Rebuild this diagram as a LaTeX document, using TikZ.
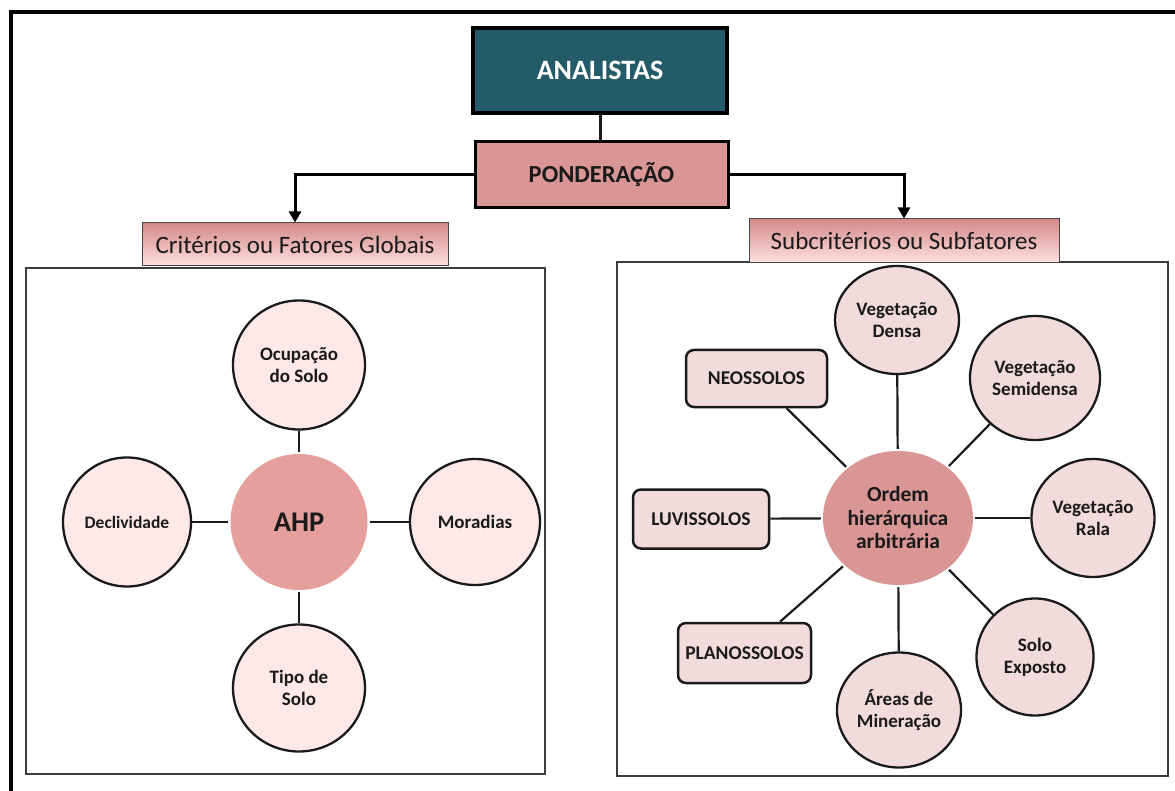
\documentclass[tikz,border=0pt]{standalone}
\usepackage{fontspec}
\setmainfont{Carlito}
\usetikzlibrary{shapes.geometric,arrows.meta}
\definecolor{teal1}{HTML}{235B69}
\definecolor{pond}{HTML}{D99694}
\definecolor{ahpc}{HTML}{E5A09E}
\definecolor{ordc}{HTML}{DA9694}
\definecolor{lpink}{HTML}{FEE8E8}
\definecolor{rpink}{HTML}{F2DCDB}
\definecolor{hdtop}{HTML}{D48A8A}
\definecolor{hdmid}{HTML}{F7B8B8}
\definecolor{hdbot}{HTML}{FFE0E0}
\definecolor{ink}{HTML}{1A1A1A}
\tikzset{
  panel/.style={draw=ink!85, line width=1.4pt, fill=white, inner sep=0pt},
  hdr/.style={draw=ink!80, line width=1pt, top color=hdtop, middle color=hdmid, bottom color=hdbot, inner sep=0pt,
    font=\fontsize{25}{29}\selectfont, text=ink},
  lcirc/.style={ellipse, draw=ink, line width=2.3pt, fill=lpink, inner sep=0pt, align=center,
    font=\bfseries\fontsize{19}{22}\selectfont, text=ink},
  rcirc/.style={ellipse, draw=ink, line width=2.3pt, fill=rpink, inner sep=0pt, align=center,
    font=\bfseries\fontsize{19}{22}\selectfont, text=ink},
  rbox/.style={rectangle, rounded corners=8pt, draw=ink, line width=2.5pt, fill=rpink, inner sep=0pt,
    font=\bfseries\fontsize{19.5}{23}\selectfont, text=ink},
  hub/.style={ellipse, inner sep=0pt, align=center, text=ink},
  conn/.style={draw=ink, line width=2.2pt},
  arr/.style={draw=black, line width=3pt, -{Triangle[length=11pt,width=12pt]}}
}
\begin{document}
\begin{tikzpicture}[x=1pt,y=-1pt]
\useasboundingbox (0,0) rectangle (1175,791);
\begin{scope}
\clip (0,0) rectangle (1175,791);
\draw[line width=4pt, black] (11,12) rectangle (1200,820);
\end{scope}

% top boxes
\node[draw=black, line width=4pt, fill=teal1, minimum width=254pt, minimum height=85pt, inner sep=0pt,
  text=white, font=\bfseries\fontsize{28}{32}\selectfont] (anal) at (600,70.5) {ANALISTAS};
\node[draw=black, line width=3pt, fill=pond, minimum width=253pt, minimum height=66pt, inner sep=0pt,
  text=ink, font=\bfseries\fontsize{24.5}{28}\selectfont] (pond) at (601.5,175) {PONDERAÇÃO};
\draw[conn, line width=3pt] (anal.south) -- (anal.south |- pond.north);

% panels
\node[panel, minimum width=519pt, minimum height=506pt] (lpanel) at (285.5,521) {};
\node[panel, minimum width=551pt, minimum height=514pt] (rpanel) at (892.5,519) {};

% headers
\node[hdr, minimum width=306pt, minimum height=43pt] (crit) at (295,244.5) {Critérios ou Fatores Globais};
\node[hdr, minimum width=310pt, minimum height=44pt] (sub) at (904,241) {Subcritérios ou Subfatores};

\draw[arr] (pond.west) -| (crit.north);
\draw[arr] (pond.east) -| (sub.north);

% left panel
\node[hub, fill=ahpc, minimum width=137pt, minimum height=136pt,
  font=\bfseries\fontsize{28.5}{32}\selectfont] (ahp) at (299,522) {AHP};
\node[lcirc, minimum width=132pt, minimum height=129pt] (ocup) at (299,365) {Ocupação\\do Solo};
\node[lcirc, minimum width=128pt, minimum height=129pt, font=\bfseries\fontsize{17.5}{21}\selectfont] (decl) at (127,522) {Declividade};
\node[lcirc, minimum width=130pt, minimum height=126pt] (mor) at (475,522) {Moradias};
\node[lcirc, minimum width=132pt, minimum height=127pt] (tipo) at (299,688) {Tipo de\\Solo};
\draw[conn, shorten >=2pt] (ocup) -- (ahp);
\draw[conn, shorten >=2pt] (decl) -- (ahp);
\draw[conn, shorten >=2pt] (mor) -- (ahp);
\draw[conn, shorten >=2pt] (tipo) -- (ahp);

% right panel
\node[hub, fill=ordc, minimum width=150pt, minimum height=134pt,
  font=\bfseries\fontsize{21.5}{23.5}\selectfont] (ordem) at (898,518) {Ordem\\hierárquica\\arbitrária};
\node[rcirc, minimum width=124pt, minimum height=108pt] (densa) at (897,320) {Vegetação\\Densa};
\node[rcirc, minimum width=130pt, minimum height=124pt] (semi) at (1035,378) {Vegetação\\Semidensa};
\node[rcirc, minimum width=123pt, minimum height=118pt] (rala) at (1093,518) {Vegetação\\Rala};
\node[rcirc, minimum width=117pt, minimum height=117pt] (expo) at (1035,657) {Solo\\Exposto};
\node[rcirc, minimum width=124pt, minimum height=115pt] (mine) at (899,710) {Áreas de\\Mineração};
\node[rbox, minimum width=141pt, minimum height=57pt] (neo) at (756.5,378.5) {NEOSSOLOS};
\node[rbox, minimum width=136pt, minimum height=59pt] (luv) at (701,519) {LUVISSOLOS};
\node[rbox, minimum width=133pt, minimum height=60pt] (plan) at (744.5,653) {PLANOSSOLOS};
\foreach \n in {densa,semi,rala,expo,mine,neo,luv,plan}{
  \draw[conn, shorten >=2pt] (\n) -- (ordem);
}
\end{tikzpicture}
\end{document}
